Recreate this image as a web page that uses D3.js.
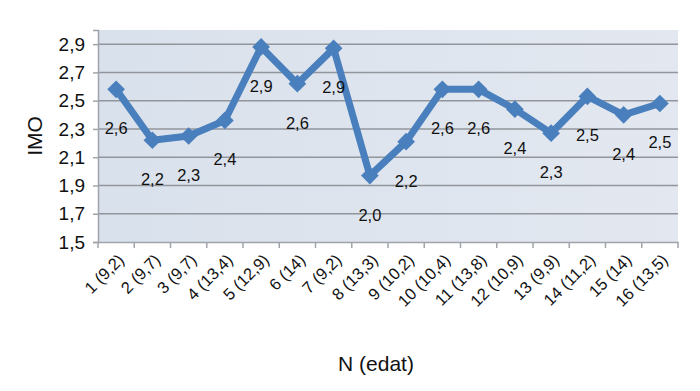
<!DOCTYPE html>
<html>
<head>
<meta charset="utf-8">
<script src="https://cdn.jsdelivr.net/npm/d3@7"></script>
<style>
  body { margin: 0; background: #fff; }
  text { font-family: "Liberation Sans", Arial, sans-serif; fill: #111; }
</style>
</head>
<body>
<div id="chart"></div>
<script>
// categories: N (mean age)
var categories = ["1 (9,2)", "2 (9,7)", "3 (9,7)", "4 (13,4)", "5 (12,9)", "6 (14)", "7 (9,2)", "8 (13,3)",
    "9 (10,2)", "10 (10,4)", "11 (13,8)", "12 (10,9)", "13 (9,9)", "14 (11,2)", "15 (14)", "16 (13,5)"];
var imoValues = [2.58, 2.22, 2.25, 2.36, 2.88, 2.62, 2.87, 1.97, 2.21, 2.58, 2.58, 2.44, 2.27, 2.53, 2.40, 2.48];
var imoLabels = ["2,6", "2,2", "2,3", "2,4", "2,9", "2,6", "2,9", "2,0", "2,2", "2,6", "2,6", "2,4", "2,3", "2,5", "2,4", "2,5"];
var yTicks = [1.5, 1.7, 1.9, 2.1, 2.3, 2.5, 2.7, 2.9];

var width = 700, height = 391;
var margin = {left: 98, right: 22, top: 30, bottom: 149};

var svg = d3.select("#chart").append("svg")
    .attr("width", width)
    .attr("height", height);

var x = d3.scaleBand()
    .domain(categories)
    .range([margin.left, width - margin.right]);

var y = d3.scaleLinear()
    .domain([1.5, 3.0])
    .range([height - margin.bottom, margin.top]);

var fmt = function(d) { return d.toFixed(1).replace(".", ","); };

// plot background
var grad = svg.append("defs").append("linearGradient")
    .attr("id", "bg").attr("x1", 0).attr("y1", 0).attr("x2", 1).attr("y2", 0);
grad.append("stop").attr("offset", 0).attr("stop-color", "#d9e1ec");
grad.append("stop").attr("offset", 1).attr("stop-color", "#e3e8f0");

svg.append("rect")
    .attr("x", margin.left)
    .attr("y", margin.top)
    .attr("width", width - margin.right - margin.left)
    .attr("height", y(1.5) - margin.top)
    .attr("fill", "url(#bg)");

// gridlines
svg.append("g").selectAll("line")
    .data(yTicks.slice(1))
    .enter().append("line")
    .attr("x1", margin.left).attr("x2", width - margin.right)
    .attr("y1", function(d) { return y(d); })
    .attr("y2", function(d) { return y(d); })
    .attr("stroke", "#92969c")
    .attr("stroke-width", 1.5);

// y axis
var yAxis = svg.append("g")
    .attr("transform", "translate(" + margin.left + ",0)")
    .call(d3.axisLeft(y).tickValues(yTicks).tickFormat(fmt).tickSize(5).tickPadding(8));
yAxis.select(".domain").attr("stroke", "#a0a4aa").attr("stroke-width", 1.5);
yAxis.selectAll(".tick line").attr("stroke", "#a0a4aa").attr("stroke-width", 1.5);
yAxis.selectAll(".tick text")
    .style("font-family", "'Liberation Sans', Arial, sans-serif")
    .style("font-size", "19px").attr("fill", "#111");

// x axis
var xAxis = svg.append("g")
    .attr("transform", "translate(0," + y(1.5) + ")")
    .call(d3.axisBottom(x).tickSize(0).tickFormat(""));
xAxis.select(".domain").attr("stroke", "#a0a4aa").attr("stroke-width", 1.5);
xAxis.selectAll(".tick").remove();

var edges = categories.map(function(c) { return x(c); }).concat([x(categories[15]) + x.bandwidth()]);
svg.append("g").selectAll("line")
    .data(edges)
    .enter().append("line")
    .attr("x1", function(d) { return d; }).attr("x2", function(d) { return d; })
    .attr("y1", y(1.5)).attr("y2", y(1.5) + 6)
    .attr("stroke", "#a0a4aa").attr("stroke-width", 1.5);

svg.append("g").selectAll("text")
    .data(categories)
    .enter().append("text")
    .attr("transform", function(d) {
        return "translate(" + (x(d) + x.bandwidth() / 2 + 9) + "," + (y(1.5) + 19) + ") rotate(-45)";
    })
    .attr("text-anchor", "end")
    .style("font-size", "16.5px")
    .text(function(d) { return d; });

// line
var pts = categories.map(function(c, i) { return {c: c, v: imoValues[i], l: imoLabels[i]}; });
var line = d3.line()
    .x(function(d) { return x(d.c) + x.bandwidth() / 2; })
    .y(function(d) { return y(d.v); });

svg.append("path")
    .datum(pts)
    .attr("d", line)
    .attr("fill", "none")
    .attr("stroke", "#4a7fbd")
    .attr("stroke-width", 7)
    .attr("stroke-linejoin", "round");

svg.append("g").selectAll("path")
    .data(pts)
    .enter().append("path")
    .attr("d", d3.symbol().type(d3.symbolDiamond2).size(200))
    .attr("transform", function(d) {
        return "translate(" + (x(d.c) + x.bandwidth() / 2) + "," + y(d.v) + ")";
    })
    .attr("fill", "#4a7fbd");

// data labels
svg.append("g").selectAll("text")
    .data(pts)
    .enter().append("text")
    .attr("x", function(d) { return x(d.c) + x.bandwidth() / 2; })
    .attr("y", function(d) { return y(d.v) + 45; })
    .attr("text-anchor", "middle")
    .style("font-size", "16.5px")
    .text(function(d) { return d.l; });

// axis titles
svg.append("text")
    .attr("transform", "translate(42," + ((margin.top + y(1.5)) / 2) + ") rotate(-90)")
    .attr("text-anchor", "middle")
    .style("font-size", "21px")
    .text("IMO");

svg.append("text")
    .attr("x", 376)
    .attr("y", 371)
    .attr("text-anchor", "middle")
    .style("font-size", "21px")
    .text("N (edat)");
</script>
</body>
</html>
